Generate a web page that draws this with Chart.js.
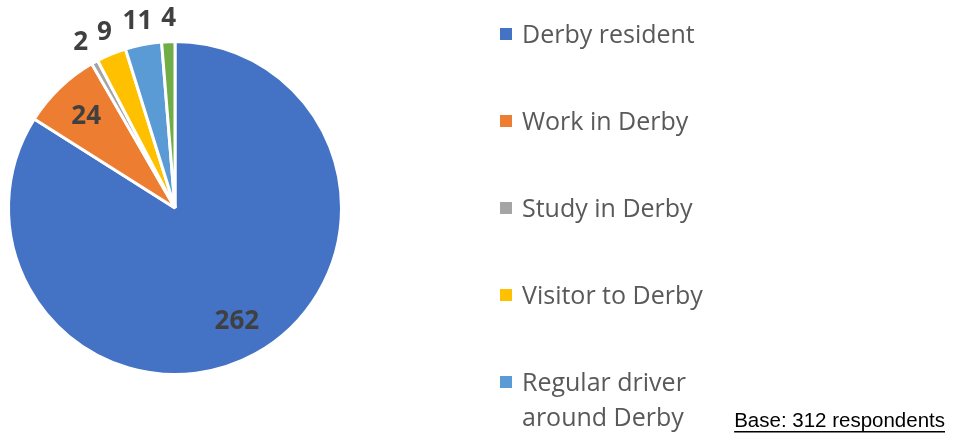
<!DOCTYPE html>
<html>
<head>
<meta charset="utf-8">
<script src="https://cdn.jsdelivr.net/npm/chart.js@4.4.1/dist/chart.umd.min.js"></script>
<style>
  html, body { margin: 0; padding: 0; background: #ffffff; }
  #wrap { position: relative; width: 957px; height: 435px; }
</style>
</head>
<body>
<div id="wrap"><canvas id="pieChart" width="957" height="435"></canvas></div>
<script>
// data
const categories = [
    ['Derby resident'],
    ['Work in Derby'],
    ['Study in Derby'],
    ['Visitor to Derby'],
    ['Regular driver', 'around Derby'],
    ['Other']
];
const respondents = [262, 24, 2, 9, 11, 4];
const sliceColours = ['#4472C4', '#ED7D31', '#A5A5A5', '#FFC000', '#5B9BD5', '#70AD47'];
const baseNote = 'Base: 312 respondents';

// data labels: big slices inside, thin slices just outside the rim
const valueLabels = {
    id: 'valueLabels',
    afterDatasetsDraw(chart) {
        const ctx = chart.ctx;
        const meta = chart.getDatasetMeta(0);
        const total = respondents.reduce((a, b) => a + b, 0);
        ctx.save();
        ctx.font = 'bold 26px "Open Sans"';
        ctx.fillStyle = '#404040';
        ctx.textAlign = 'center';
        ctx.textBaseline = 'middle';

        const spots = meta.data.map(function (arc, i) {
            const mid = (arc.startAngle + arc.endAngle) / 2;
            const outside = respondents[i] / total < 0.05;
            const dist = outside ? arc.outerRadius + 24 : arc.outerRadius * 0.77;
            return {
                text: String(respondents[i]),
                outside: outside,
                x: arc.x + Math.cos(mid) * dist,
                y: arc.y + Math.sin(mid) * dist + 1,
                w: ctx.measureText(String(respondents[i])).width
            };
        });

        // keep neighbouring outside labels from crowding each other
        for (let i = 1; i < spots.length; i++) {
            const a = spots[i - 1], b = spots[i];
            if (!a.outside || !b.outside) continue;
            const need = (a.w + b.w) / 2 + 9;
            const gap = b.x - a.x;
            if (gap < need) {
                const push = (need - gap) / 2;
                a.x -= push;
                b.x += push;
            }
        }

        spots.forEach(function (s) {
            ctx.fillText(s.text, s.x, s.y);
        });
        ctx.restore();
    }
};

// legend on the right, one row every 87px
const sideLegend = {
    id: 'sideLegend',
    afterDraw(chart) {
        const ctx = chart.ctx;
        ctx.save();
        ctx.font = '25px "Open Sans"';
        ctx.textBaseline = 'alphabetic';
        ctx.textAlign = 'left';
        categories.forEach(function (lines, i) {
            const cy = 34 + i * 87;
            ctx.fillStyle = sliceColours[i];
            ctx.fillRect(500, cy - 6, 12, 12);
            ctx.fillStyle = '#595959';
            lines.forEach(function (line, j) {
                ctx.fillText(line, 522, cy + 9 + j * 35);
            });
        });

        // base note, underlined
        ctx.font = '20.5px "Liberation Sans", Arial, sans-serif';
        ctx.fillStyle = '#000000';
        const w = ctx.measureText(baseNote).width;
        const bx = 945 - w;
        ctx.fillText(baseNote, bx, 427);
        ctx.fillRect(bx, 431, w, 1.5);
        ctx.restore();
    }
};

const ctx = document.getElementById('pieChart').getContext('2d');
const chart = new Chart(ctx, {
    type: 'pie',
    data: {
        labels: categories.map(l => l.join(' ')),
        datasets: [{
            data: respondents,
            backgroundColor: sliceColours,
            borderColor: '#ffffff',
            borderWidth: 3
        }]
    },
    options: {
        responsive: false,
        animation: false,
        layout: { padding: { left: 7, top: 40, right: 614, bottom: 59 } },
        plugins: {
            legend: { display: false },
            tooltip: { enabled: false }
        }
    },
    plugins: [valueLabels, sideLegend]
});
</script>
</body>
</html>
